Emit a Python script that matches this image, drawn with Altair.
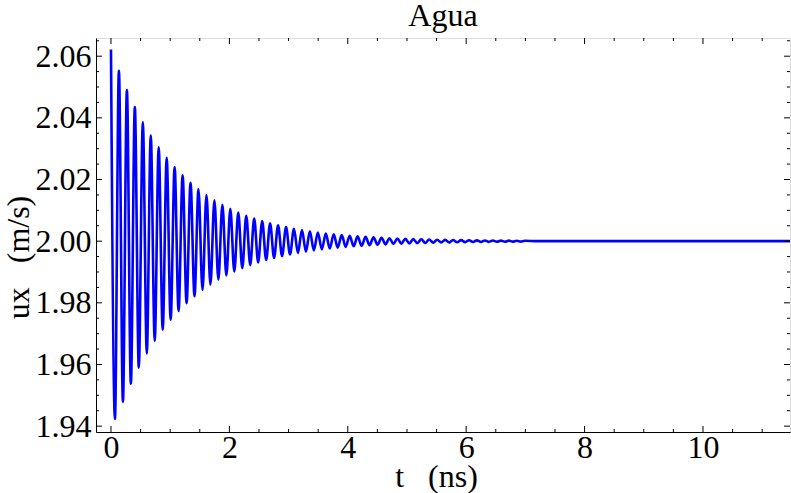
import altair as alt
import pandas as pd

# Extrema of the damped oscillation (t in ns, ux in m/s)
t_ns = [0.000, 0.067, 0.134, 0.202, 0.269, 0.336, 0.403, 0.470, 0.538, 0.605,
        0.672, 0.739, 0.806, 0.874, 0.941, 1.008, 1.075, 1.142, 1.210, 1.277,
        1.344, 1.411, 1.478, 1.546, 1.613, 1.680, 1.747, 1.814, 1.882, 1.949,
        2.016, 2.083, 2.150, 2.218, 2.285, 2.352, 2.419, 2.486, 2.554, 2.621,
        2.688, 2.755, 2.822, 2.890, 2.957, 3.024, 3.091, 3.158, 3.226, 3.293,
        3.360, 3.427, 3.494, 3.562, 3.629, 3.696, 3.763, 3.830, 3.898, 3.965,
        4.032, 4.099, 4.166, 4.234, 4.301, 4.368, 4.435, 4.502, 4.570, 4.637,
        4.704, 4.771, 4.838, 4.906, 4.973, 5.040, 5.107, 5.174, 5.242, 5.309,
        5.376, 5.443, 5.510, 5.578, 5.645, 5.712, 5.779, 5.846, 5.914, 5.981,
        6.048, 6.115, 6.182, 6.250, 6.317, 6.384, 6.451, 6.518, 6.586, 6.653,
        6.720, 6.787, 6.854, 6.922, 6.989, 7.200, 11.500]
ux = [2.06220, 1.94230, 2.05523, 1.94796, 2.04904, 1.95379, 2.04354, 1.95897, 2.03866, 1.96357,
      2.03433, 1.96765, 2.03048, 1.97128, 2.02707, 1.97450, 2.02403, 1.97735, 2.02134, 1.97989,
      2.01895, 1.98215, 2.01682, 1.98415, 2.01494, 1.98592, 2.01326, 1.98750, 2.01178, 1.98890,
      2.01046, 1.99015, 2.00929, 1.99125, 2.00824, 1.99223, 2.00732, 1.99310, 2.00650, 1.99388,
      2.00577, 1.99456, 2.00512, 1.99517, 2.00455, 1.99571, 2.00404, 1.99619, 2.00359, 1.99662,
      2.00318, 1.99700, 2.00283, 1.99734, 2.00251, 1.99763, 2.00223, 1.99790, 2.00198, 1.99814,
      2.00176, 1.99834, 2.00156, 1.99853, 2.00139, 1.99869, 2.00123, 1.99884, 2.00109, 1.99897,
      2.00097, 1.99909, 2.00086, 1.99919, 2.00076, 1.99928, 2.00068, 1.99936, 2.00060, 1.99943,
      2.00053, 1.99950, 2.00047, 1.99955, 2.00042, 1.99960, 2.00037, 1.99965, 2.00033, 1.99969,
      2.00029, 1.99972, 2.00026, 1.99975, 2.00023, 1.99978, 2.00021, 1.99981, 2.00018, 1.99983,
      2.00016, 1.99985, 2.00014, 1.99986, 2.00013, 2.00000, 2.00000]

x_major = [0, 2, 4, 6, 8, 10]
x_minor = [0.5, 1, 1.5, 2.5, 3, 3.5, 4.5, 5, 5.5, 6.5, 7, 7.5, 8.5, 9, 9.5,
           10.5, 11, 11.5]
y_major = [1.94, 1.96, 1.98, 2.00, 2.02, 2.04, 2.06]
y_minor = [1.945, 1.95, 1.955, 1.965, 1.97, 1.975, 1.985, 1.99, 1.995,
           2.005, 2.01, 2.015, 2.025, 2.03, 2.035, 2.045, 2.05, 2.055, 2.065]

W, H = 694, 394
FONT = "Liberation Serif"
FS = 32
XDOM = [-0.253, 11.47]
YDOM = [1.9381, 2.0659]

df = pd.DataFrame({"t": t_ns, "ux": ux})

xs = alt.Scale(domain=XDOM, nice=False, zero=False)
ys = alt.Scale(domain=YDOM, nice=False, zero=False)

line = alt.Chart(df).mark_line(color="#0000ff", strokeWidth=2.6,
                               interpolate="monotone", clip=True).encode(
    x=alt.X("t:Q", scale=xs,
            axis=alt.Axis(title="t\u00a0\u00a0\u00a0(ns)", values=x_major, format="d",
                          ticks=False, grid=False, domainColor="black",
                          labelFont=FONT, labelFontSize=FS, labelColor="black",
                          labelPadding=0, titleFont=FONT, titleFontSize=FS,
                          titleFontWeight="normal", titleColor="black",
                          titleBaseline="alphabetic", titleY=54, titleX=340)),
    y=alt.Y("ux:Q", scale=ys,
            axis=alt.Axis(title="ux\u00a0\u00a0\u00a0(m/s)", values=y_major, format=".2f",
                          ticks=False, grid=False, domainColor="black",
                          labelFont=FONT, labelFontSize=FS, labelColor="black",
                          labelPadding=5, titleFont=FONT, titleFontSize=FS,
                          titleFontWeight="normal", titleColor="black",
                          titleBaseline="alphabetic",
                          titleX=-68, titleY=219, titleAlign="center")),
)

def xticks(vals, length):
    d = pd.DataFrame({"v": vals})
    bot = alt.Chart(d).mark_rule(color="black", strokeWidth=1).encode(
        x=alt.X("v:Q", scale=xs), y=alt.value(H), y2=alt.value(H - length))
    top = alt.Chart(d).mark_rule(color="black", strokeWidth=1).encode(
        x=alt.X("v:Q", scale=xs), y=alt.value(0), y2=alt.value(length))
    return [bot, top]

def yticks(vals, length):
    d = pd.DataFrame({"v": vals})
    left = alt.Chart(d).mark_rule(color="black", strokeWidth=1).encode(
        y=alt.Y("v:Q", scale=ys), x=alt.value(0), x2=alt.value(length))
    right = alt.Chart(d).mark_rule(color="black", strokeWidth=1).encode(
        y=alt.Y("v:Q", scale=ys), x=alt.value(W), x2=alt.value(W - length))
    return [left, right]

layers = [line] + xticks(x_major, 6) + xticks(x_minor, 3) + yticks(y_major, 6) + yticks(y_minor, 3)

chart = alt.layer(*layers).properties(
    width=W, height=H,
    autosize=alt.AutoSizeParams(type="none"),
    padding={"left": 96, "top": 38, "right": 1, "bottom": 61},
    title=alt.Title("Agua", font=FONT, fontSize=32, fontWeight="normal",
                    color="black", anchor="middle", offset=5),
).configure_view(stroke="black", strokeWidth=1).configure(background="white")

chart.save("out.html", embed_options={"renderer": "svg", "actions": False})
